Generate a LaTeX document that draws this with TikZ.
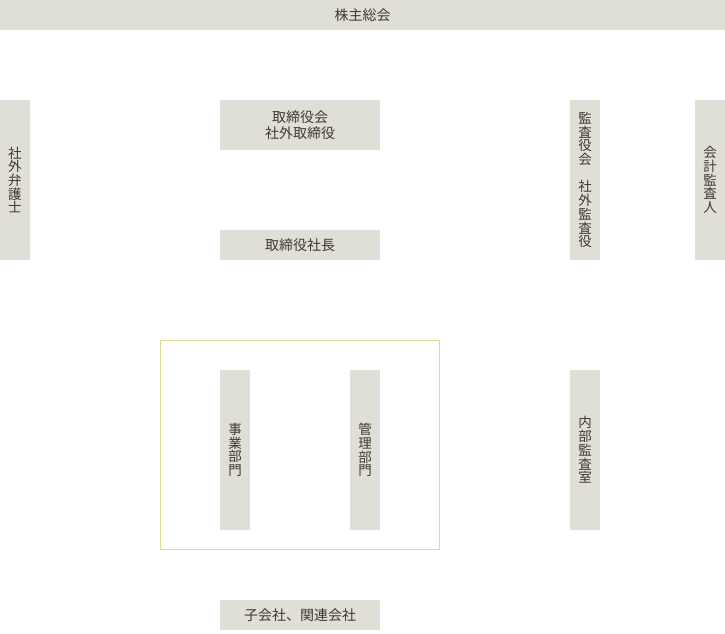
\documentclass[tikz,border=0pt]{standalone}
\usepackage{fontspec}
\newfontfamily\jp{Noto Sans CJK JP}
\definecolor{boxfill}{HTML}{DFDED7}
\definecolor{txt}{HTML}{40382D}
\definecolor{frame}{HTML}{E0DC96}
\tikzset{
  hbox/.style={fill=boxfill, draw=none, inner sep=0pt, text=txt, font=\jp\fontsize{14}{16}\selectfont, align=center},
  vbox/.style={fill=boxfill, draw=none, inner sep=0pt, text=txt, font=\jp\fontsize{13.5}{13.7}\selectfont, align=center, minimum width=30pt, minimum height=160pt},
}
\begin{document}
\begin{tikzpicture}[x=1pt,y=-1pt]
\useasboundingbox (0,0) rectangle (725,633);
\node[hbox, minimum width=725pt, minimum height=30pt] (agm) at (362.5,15) {株主総会};
\node[hbox, minimum width=160pt, minimum height=50pt] (board) at (300,125) {取締役会\\社外取締役};
\node[hbox, minimum width=160pt, minimum height=30pt] (pres) at (300,245) {取締役社長};
\node[vbox] (lawyer) at (15,180) {社\\外\\弁\\護\\士};
\node[vbox] (audit) at (585,180) {監\\査\\役\\会\\[13.7pt]社\\外\\監\\査\\役};
\node[vbox] (acct) at (710,180) {会\\計\\監\\査\\人};
\node[draw=frame, line width=1pt, minimum width=279pt, minimum height=209pt, inner sep=0pt] (group) at (300,445) {};
\node[vbox] (biz) at (235,450) {事\\業\\部\\門};
\node[vbox] (mgmt) at (365,450) {管\\理\\部\\門};
\node[vbox] (inaudit) at (585,450) {内\\部\\監\\査\\室};
\node[hbox, minimum width=160pt, minimum height=30pt] (sub) at (300,615) {子会社、関連会社};
\end{tikzpicture}
\end{document}
